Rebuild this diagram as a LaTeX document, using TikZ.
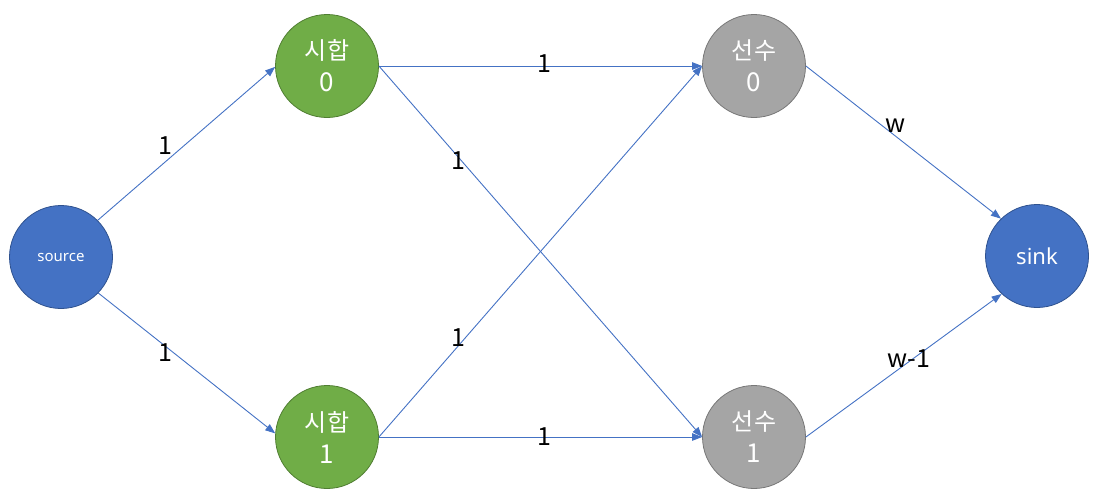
\documentclass[tikz,border=0pt]{standalone}
\usepackage{fontspec}
\setmainfont{Noto Sans}
\newfontfamily\kr{Noto Sans CJK KR}
\usetikzlibrary{arrows.meta}
\definecolor{nblue}{HTML}{4472C4}
\definecolor{nblueD}{HTML}{2F528F}
\definecolor{ngreen}{HTML}{70AD47}
\definecolor{ngreenD}{HTML}{507E32}
\definecolor{ngray}{HTML}{A5A5A5}
\definecolor{ngrayD}{HTML}{787878}
\tikzset{
  vtx/.style={circle, minimum size=103pt, inner sep=0pt, line width=0.8pt, text=white, align=center},
  bluev/.style={vtx, fill=nblue, draw=nblueD},
  greenv/.style={vtx, fill=ngreen, draw=ngreenD},
  grayv/.style={vtx, fill=ngray, draw=ngrayD},
  big/.style={font=\kr\fontsize{24}{32}\selectfont},
  edge/.style={draw=nblue, line width=0.9pt, -{Triangle[length=10pt,width=7.5pt]}},
  lbl/.style={font=\kr\fontsize{25}{28}\selectfont, text=black, inner sep=0pt}
}
\begin{document}
\begin{tikzpicture}[x=1pt,y=-1pt]
\useasboundingbox (0,0) rectangle (1102,498);
\node[bluev, font=\fontsize{15}{17}\selectfont] (src) at (61,257) {source};
\node[greenv, big] (a0) at (327,66) {시합\\{\fontsize{26}{32}\selectfont 0}};
\node[greenv, big] (a1) at (327,437) {시합\\{\fontsize{26}{32}\selectfont 1}};
\node[grayv, big] (p0) at (754,66) {선수\\{\fontsize{26}{32}\selectfont 0}};
\node[grayv, big] (p1) at (754,437) {선수\\{\fontsize{26}{32}\selectfont 1}};
\node[bluev, font=\fontsize{22}{26}\selectfont] (snk) at (1037,256) {sink};

\draw[edge] (src.45) -- (a0.181);
\draw[edge] (src.-44) -- (a1.176);
\draw[edge] (a0.east) -- (p0.west);
\draw[edge] (a0.east) -- (p1.west);
\draw[edge] (a1.east) -- (p0.west);
\draw[edge] (a1.east) -- (p1.west);
\draw[edge] (p0.east) -- (snk.134);
\draw[edge] (p1.east) -- (snk.227);

\node[lbl] (l1) at (165,146) {1};
\node[lbl] (l2) at (165,353) {1};
\node[lbl] (l3) at (544,64) {1};
\node[lbl] (l4) at (458,161) {1};
\node[lbl] (l5) at (458,338) {1};
\node[lbl] (l6) at (544,437) {1};
\node[lbl] (l7) at (896,126) {w};
\node[lbl] (l8) at (909,359) {w-1};
\end{tikzpicture}
\end{document}
